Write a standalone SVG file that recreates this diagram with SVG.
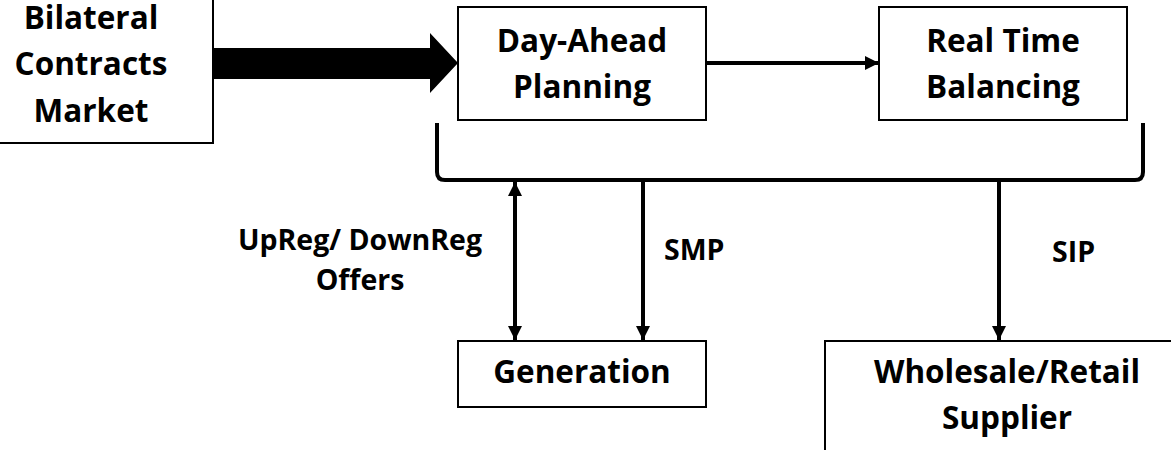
<svg xmlns="http://www.w3.org/2000/svg" width="1171" height="450" viewBox="0 0 1171 450">
  <style>
    .box { fill: #ffffff; stroke: #000000; stroke-width: 2; }
    .lbl { font-family: "Open Sans", "Liberation Sans", sans-serif; font-weight: 700; font-size: 31.5px; fill: #000000; text-anchor: middle; }
    .edge-lbl { font-family: "Open Sans", "Liberation Sans", sans-serif; font-weight: 700; font-size: 28.5px; fill: #000000; }
    .wire { fill: none; stroke: #000000; stroke-width: 4; }
  </style>
  <defs>
    <marker id="head" viewBox="0 0 14 14" refX="14" refY="7" markerWidth="14" markerHeight="14" markerUnits="userSpaceOnUse" orient="auto-start-reverse">
      <path d="M0,0 L14,7 L0,14 Z" fill="#000000"/>
    </marker>
  </defs>

  <rect width="1171" height="450" fill="#ffffff"/>

  <g id="connectors">
    <!-- heavy block arrow from the bilateral market into day-ahead planning -->
    <polygon points="213,48 430,48 430,33 458,63 430,93 430,79 213,79" fill="#000000"/>
    <!-- day-ahead to real time -->
    <line class="wire" x1="706" y1="63" x2="879" y2="63" marker-end="url(#head)"/>
    <!-- bracket grouping both planning stages -->
    <path class="wire" d="M437,123 L437,172 Q437,180 445,180 L1135,180 Q1143,180 1143,172 L1143,123" stroke-width="4.5"/>
    <!-- offers exchange with generation -->
    <line class="wire" x1="515" y1="182" x2="515" y2="340" marker-start="url(#head)" marker-end="url(#head)"/>
    <!-- SMP to generation -->
    <line class="wire" x1="643" y1="180" x2="643" y2="340" marker-end="url(#head)"/>
    <!-- SIP to supplier -->
    <line class="wire" x1="999" y1="180" x2="999" y2="340" marker-end="url(#head)"/>
    <text class="edge-lbl" x="360" y="250" text-anchor="middle">UpReg/ DownReg</text>
    <text class="edge-lbl" x="360" y="290" text-anchor="middle">Offers</text>
    <text class="edge-lbl" x="664" y="260">SMP</text>
    <text class="edge-lbl" x="1052" y="262">SIP</text>
  </g>

  <g id="bilateral">
    <rect class="box" x="-5" y="-5" width="218" height="148"/>
    <text class="lbl" x="91" y="29">Bilateral</text>
    <text class="lbl" x="91" y="75">Contracts</text>
    <text class="lbl" x="91" y="122">Market</text>
  </g>

  <g id="day-ahead">
    <rect class="box" x="458" y="7" width="248" height="113"/>
    <text class="lbl" x="582" y="52">Day-Ahead</text>
    <text class="lbl" x="582" y="98">Planning</text>
  </g>

  <g id="real-time">
    <rect class="box" x="879" y="7" width="248" height="113"/>
    <text class="lbl" x="1003" y="52">Real Time</text>
    <text class="lbl" x="1003" y="98">Balancing</text>
  </g>

  <g id="generation">
    <rect class="box" x="458" y="341" width="248" height="66"/>
    <text class="lbl" x="582" y="383">Generation</text>
  </g>

  <g id="supplier">
    <rect class="box" x="825" y="341" width="360" height="120"/>
    <text class="lbl" x="1007" y="383">Wholesale/Retail</text>
    <text class="lbl" x="1007" y="429">Supplier</text>
  </g>
</svg>
